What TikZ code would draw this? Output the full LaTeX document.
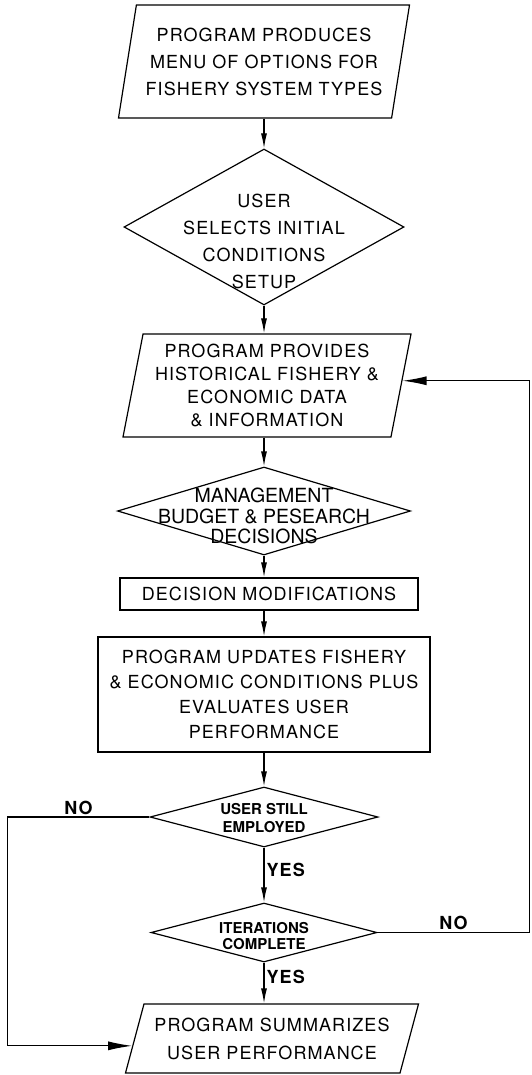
\documentclass[tikz,border=0pt]{standalone}
\usepackage{fontspec}
\setmainfont{TeX Gyre Heros}[LetterSpace=6]
\newfontfamily\plainfont{TeX Gyre Heros}
\usetikzlibrary{arrows.meta,shapes.geometric}
\tikzset{>={Latex[width=6pt,length=15pt]}}
\tikzset{
  flow/.style={line width=1.2pt},
  bigarrow/.style={-{Latex[width=9pt,length=24pt]}},
  io/.style={trapezium, draw, line width=1.2pt, trapezium stretches body,
    inner sep=2pt, align=center, font=\fontsize{18}{27}\selectfont},
  ask/.style={diamond, draw, line width=1.2pt, inner sep=0pt},
  box/.style={rectangle, draw, line width=1.2pt, inner sep=2pt, align=center,
    font=\fontsize{18}{25}\selectfont},
  yn/.style={font=\bfseries\fontsize{18}{18}\selectfont, inner sep=2pt}
}
% text of a diamond: no size of its own, shifted down by #1
\newcommand\dtxt[2]{\makebox[0pt]{\raisebox{\dimexpr-.25em-#1\relax}[0pt][0pt]{%
  \begin{tabular}{@{}c@{}}#2\end{tabular}}}}

\begin{document}
\begin{tikzpicture}[x=1pt,y=-1pt]
  \useasboundingbox (0,0) rectangle (531,1075);

  \node[io, trapezium left angle=76, trapezium right angle=104,
    minimum width=291pt, minimum height=113pt] (prod) at (264,61.5)
    {PROGRAM PRODUCES\\MENU OF OPTIONS FOR\\FISHERY SYSTEM TYPES};
  \node[ask, minimum width=280pt, minimum height=156pt,
    font=\fontsize{18}{27}\selectfont] (sel) at (264,227)
    {\dtxt{15pt}{USER\\SELECTS INITIAL\\CONDITIONS\\SETUP}};
  \node[io, trapezium left angle=77, trapezium right angle=103,
    minimum width=288pt, minimum height=103pt,
    font=\fontsize{18}{23}\selectfont] (prov) at (267,385.5)
    {PROGRAM PROVIDES\\HISTORICAL FISHERY \&\\ECONOMIC DATA\\\& INFORMATION};
  \node[ask, minimum width=293pt, minimum height=88pt,
    font=\plainfont\fontsize{19.5}{19}\selectfont] (mgmt) at (264,511)
    {\dtxt{8pt}{MANAGEMENT\\BUDGET \& PESEARCH\\DECISIONS}};
  \node[box, minimum width=298pt, minimum height=32pt] (dec) at (269,594)
    {DECISION MODIFICATIONS};
  \node[box, minimum width=332pt, minimum height=115pt] (upd) at (264,694.5)
    {PROGRAM UPDATES FISHERY\\\& ECONOMIC CONDITIONS PLUS\\EVALUATES USER\\PERFORMANCE};
  \node[ask, minimum width=228pt, minimum height=60pt,
    font=\plainfont\bfseries\fontsize{15}{18}\selectfont] (emp) at (264,817)
    {\dtxt{3pt}{USER STILL\\EMPLOYED}};
  \node[ask, minimum width=226pt, minimum height=59pt,
    font=\plainfont\bfseries\fontsize{15}{16}\selectfont] (iter) at (264,932.5)
    {\dtxt{6pt}{ITERATIONS\\COMPLETE}};
  \node[io, trapezium left angle=68, trapezium right angle=112,
    minimum width=293pt, minimum height=69pt,
    font=\fontsize{18}{28}\selectfont] (summ) at (272,1038.5)
    {PROGRAM SUMMARIZES\\USER PERFORMANCE};

  \draw[flow,->] (sel.north |- prod.south) -- (sel.north);
  \draw[flow,->] (sel.south) -- (sel.south |- prov.north);
  \draw[flow,->] (mgmt.north |- prov.south) -- (mgmt.north);
  \draw[flow,->] (mgmt.south) -- (mgmt.south |- dec.north);
  \draw[flow,->] (mgmt.south |- dec.south) -- (upd.north);
  \draw[flow,->] (upd.south) -- (emp.north);
  \draw[flow,->] (emp.south) -- node[yn, right, pos=.4]{YES} (iter.north);
  \draw[flow,->] (iter.south) -- node[yn, right, pos=.35]{YES} (iter.south |- summ.north);

  % loops back
  \draw[flow,bigarrow] (emp.west) -- node[yn, above]{NO} ++(-142,0) |- (summ.183);
  \draw[flow,bigarrow] (iter.east) -- node[yn, above]{NO} ++(152,0) |- (prov.2);

\end{tikzpicture}
\end{document}
